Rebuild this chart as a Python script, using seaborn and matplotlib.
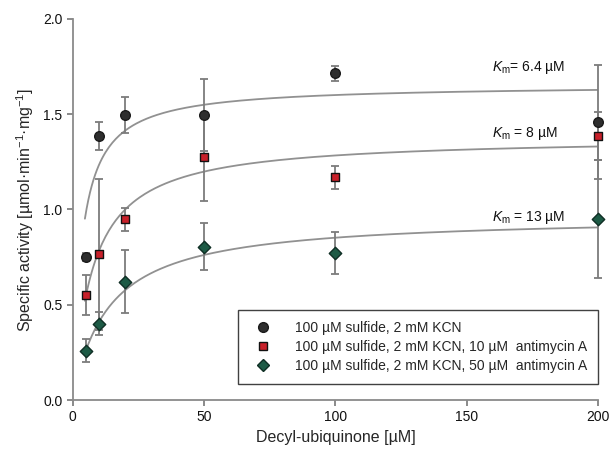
import numpy as np
import pandas as pd
import seaborn as sns
import matplotlib.pyplot as plt
from matplotlib.lines import Line2D

# ===============================
# 1. DATA
# ===============================
conc = [5, 10, 20, 50, 100, 200]

kcn_act = [0.75, 1.385, 1.495, 1.495, 1.715, 1.46]
kcn_err = [0.02, 0.075, 0.095, 0.19, 0.04, 0.30]

anti10_act = [0.55, 0.765, 0.948, 1.277, 1.168, 1.385]
anti10_err = [0.105, 0.395, 0.06, 0.23, 0.062, 0.125]

anti50_act = [0.258, 0.40, 0.62, 0.805, 0.77, 0.95]
anti50_err = [0.06, 0.06, 0.165, 0.125, 0.11, 0.31]

labels = [
    "100 µM sulfide, 2 mM KCN",
    "100 µM sulfide, 2 mM KCN, 10 µM  antimycin A",
    "100 µM sulfide, 2 mM KCN, 50 µM  antimycin A",
]

# fitted curves as drawn (Vmax, Km) and the printed Km labels
fit_vmax = [1.655, 1.381, 0.967]
fit_km = [3.4, 7.6, 13.5]
km_text = [r"$K_\mathrm{m}$= 6.4 µM", r"$K_\mathrm{m}$ = 8 µM", r"$K_\mathrm{m}$ = 13 µM"]
km_text_y = [1.743, 1.40, 0.96]

colors = ["#2e2e2e", "#c8202a", "#1d5a45"]
edges = ["#1a1a1a", "#111111", "#0f2e24"]
markers = ["o", "s", "D"]
sizes = [48, 38, 40]

df = pd.DataFrame({
    "conc": conc * 3,
    "activity": kcn_act + anti10_act + anti50_act,
    "err": kcn_err + anti10_err + anti50_err,
    "condition": [labels[0]] * 6 + [labels[1]] * 6 + [labels[2]] * 6,
})

x_fit = np.linspace(4.6, 200, 300)

# ===============================
# 2. STYLE
# ===============================
sns.set_theme(style="ticks")
plt.rcParams["font.family"] = ["Liberation Sans", "DejaVu Sans"]
plt.rcParams["mathtext.fontset"] = "custom"
plt.rcParams["mathtext.rm"] = "Liberation Sans"
plt.rcParams["mathtext.it"] = "Liberation Sans:italic"

fig = plt.figure(figsize=(6.12, 4.5), dpi=100)
ax = fig.add_axes([0.119, 0.111, 0.858, 0.847])

# ===============================
# 3. FIT CURVES + ERROR BARS + POINTS
# ===============================
for vmax, km in zip(fit_vmax, fit_km):
    sns.lineplot(x=x_fit, y=vmax * x_fit / (km + x_fit), ax=ax,
                 color="#919191", lw=1.3, zorder=2)

for lab in labels:
    sub = df[df["condition"] == lab]
    ax.errorbar(sub["conc"], sub["activity"], yerr=sub["err"], fmt="none",
                ecolor="#7c7c7c", elinewidth=1.3, capsize=3.2, capthick=1.3,
                zorder=3, clip_on=False)

for i, lab in enumerate(labels):
    sub = df[df["condition"] == lab]
    sns.scatterplot(data=sub, x="conc", y="activity", ax=ax, marker=markers[i],
                    color=colors[i], edgecolor=edges[i], linewidth=1.0,
                    s=sizes[i], zorder=4, clip_on=False, legend=False)

for txt, ty in zip(km_text, km_text_y):
    ax.text(159.5, ty, txt, fontsize=10, va="center", ha="left", color="#111111")

# ===============================
# 4. AXES
# ===============================
ax.set_xlim(0, 200)
ax.set_ylim(0, 2.0)
ax.set_xticks([0, 50, 100, 150, 200])
ax.set_yticks([0, 0.5, 1.0, 1.5, 2.0])
ax.set_yticklabels(["0.0", "0.5", "1.0", "1.5", "2.0"])
ax.set_xlabel("Decyl-ubiquinone [µM]", fontsize=11.5, labelpad=4)
ax.set_ylabel("Specific activity [µmol·min$^{-1}$·mg$^{-1}$]", fontsize=11.5, labelpad=5)
ax.tick_params(axis="both", labelsize=10, color="#777777", width=1.2, length=4,
               labelcolor="#111111")
sns.despine(ax=ax)
for side in ["left", "bottom"]:
    ax.spines[side].set_color("#8a8a8a")
    ax.spines[side].set_linewidth(1.3)

handles = [
    Line2D([], [], marker=markers[i], ls="none", markerfacecolor=colors[i],
           markeredgecolor=edges[i], markersize=7 if i == 0 else 6)
    for i in range(3)
]
leg = ax.legend(handles, labels, loc="lower right", bbox_to_anchor=(1.0, 0.043),
                fontsize=10, frameon=True, fancybox=False, edgecolor="#111111",
                borderpad=0.8, handletextpad=1.3, labelspacing=0.35,
                borderaxespad=0.0)
leg.get_frame().set_linewidth(1.0)

fig.savefig("out.png", dpi=100)
